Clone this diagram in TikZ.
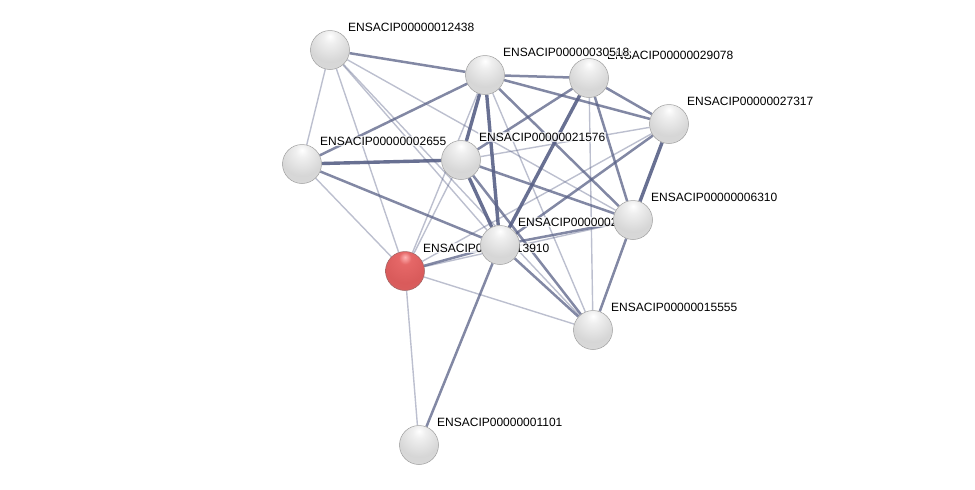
\documentclass[tikz,border=0pt]{standalone}
\usepackage{fontspec}
\setmainfont{Liberation Sans}
\usetikzlibrary{backgrounds}
\definecolor{edgec}{RGB}{88,96,134}
\pgfdeclareradialshading{greysphere}{\pgfpoint{0bp}{18bp}}{%
  color(0bp)=(white); color(8bp)=(white!94!black); color(28bp)=(white!84!black);
  color(50bp)=(white!86!black); color(60bp)=(white!70!black); color(68bp)=(white!50!black); color(100bp)=(white!50!black)}
\pgfdeclareradialshading{redsphere}{\pgfpoint{0bp}{18bp}}{%
  color(0bp)=(white!70!red); color(8bp)=(white!45!red!90!black); color(28bp)=(white!42!red!85!black);
  color(50bp)=(white!45!red!85!black); color(60bp)=(red!65!black); color(68bp)=(red!45!black); color(100bp)=(red!45!black)}
\begin{document}
\begin{tikzpicture}[x=1pt,y=-1pt,
  prot/.style={circle, minimum size=39pt, inner sep=0pt, shading=greysphere, draw=gray!75, line width=0.5pt},
  protred/.style={prot, shading=redsphere, draw=red!35!black!60},
  lab/.style={anchor=west, font=\fontsize{12}{14}\selectfont, fill=white, fill opacity=0.75, text opacity=1, inner sep=1pt},
  et/.style={draw=edgec, draw opacity=0.4, line width=1.4pt},
  em/.style={draw=edgec, draw opacity=0.75, line width=2.5pt},
  ek/.style={draw=edgec, draw opacity=0.9, line width=3.4pt}]
\useasboundingbox (0,0) rectangle (975,490);
% nodes and labels, in stacking order
\node[prot] (J) at (419,445) {};
\node[lab] (Jl) at ([shift={(17,-23)}]J) {ENSACIP00000001101};
\node[prot] (I) at (593,330) {};
\node[lab] (Il) at ([shift={(17,-23)}]I) {ENSACIP00000015555};
\node[protred] (R) at (405,271) {};
\node[lab] (Rl) at ([shift={(17,-23)}]R) {ENSACIP00000013910};
\node[prot] (H) at (500,245) {};
\node[lab] (Hl) at ([shift={(17,-23)}]H) {ENSACIP0000002};
\node[prot] (G) at (633,220) {};
\node[lab] (Gl) at ([shift={(17,-23)}]G) {ENSACIP00000006310};
\node[prot] (D) at (669,124) {};
\node[lab] (Dl) at ([shift={(17,-23)}]D) {ENSACIP00000027317};
\node[prot] (C) at (589,78) {};
\node[lab] (Cl) at ([shift={(17,-23)}]C) {ENSACIP00000029078};
\node[prot] (B) at (485,75) {};
\node[lab] (Bl) at ([shift={(17,-23)}]B) {ENSACIP00000030518};
\node[prot] (F) at (461,160) {};
\node[lab] (Fl) at ([shift={(17,-23)}]F) {ENSACIP00000021576};
\node[prot] (E) at (302,164) {};
\node[lab] (El) at ([shift={(17,-23)}]E) {ENSACIP00000002655};
\node[prot] (A) at (330,50) {};
\node[lab] (Al) at ([shift={(17,-23)}]A) {ENSACIP00000012438};
% edges
\begin{pgfonlayer}{background}
\draw[em] (A) -- (B);
\draw[et] (A) -- (E);
\draw[et] (A) -- (R);
\draw[et] (A) -- (H);
\draw[et] (A) -- (I);
\draw[et] (A) -- (G);
\draw[em] (E) -- (B);
\draw[ek] (E) -- (F);
\draw[em] (E) -- (H);
\draw[et] (E) -- (R);
\draw[em] (B) -- (C);
\draw[em] (B) -- (D);
\draw[ek] (B) -- (F);
\draw[ek] (B) -- (H);
\draw[em] (B) -- (G);
\draw[et] (B) -- (I);
\draw[et] (B) -- (R);
\draw[em] (C) -- (D);
\draw[em] (C) -- (F);
\draw[ek] (C) -- (H);
\draw[em] (C) -- (G);
\draw[et] (C) -- (I);
\draw[et] (F) -- (D);
\draw[em] (F) -- (G);
\draw[ek] (F) -- (H);
\draw[em] (F) -- (I);
\draw[et] (F) -- (R);
\draw[ek] (D) -- (G);
\draw[em] (D) -- (H);
\draw[et] (D) -- (R);
\draw[em] (G) -- (H);
\draw[em] (G) -- (I);
\draw[et] (G) -- (R);
\draw[em] (H) -- (R);
\draw[em] (H) -- (J);
\draw[em] (H) -- (I);
\draw[et] (R) -- (J);
\draw[et] (R) -- (I);
\end{pgfonlayer}
\end{tikzpicture}
\end{document}
